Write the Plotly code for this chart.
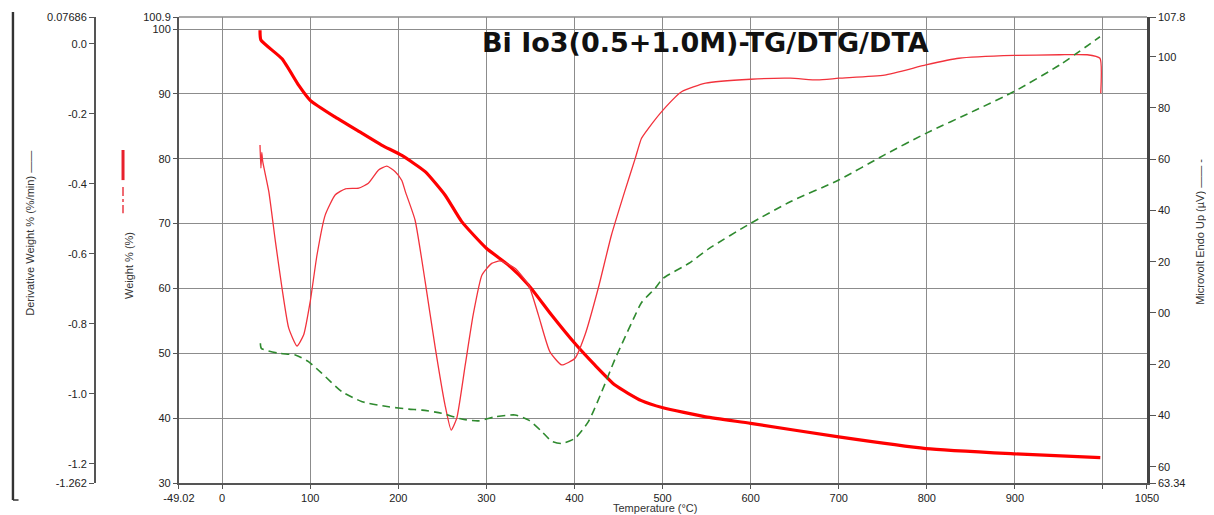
import plotly.graph_objects as go

# ---------------- data ----------------
temp_tg = [43, 44, 68, 87, 100, 128.5, 159, 181, 204, 230.5, 253, 272, 300, 325,
           348, 374, 400.6, 423, 446, 476, 500.5, 549, 600, 700, 799, 899, 997]
weight = [99.8, 98.3, 95.4, 91.3, 89.0, 86.4, 83.9, 82.1, 80.5, 78.0, 74.4, 70.3,
          66.2, 63.6, 60.5, 55.9, 51.5, 48.2, 45.1, 42.7, 41.6, 40.2, 39.2, 37.1,
          35.3, 34.5, 33.9]

temp_dtg = [43, 44, 45, 46, 53, 60.5, 68, 75.6, 85, 92.6, 100, 107.7, 117, 128.5,
            140, 155, 166, 177.6, 187, 196.5, 204, 208, 219, 230.5, 242, 253, 260,
            266.4, 276, 285, 295, 306, 315.5, 332.5, 348, 359, 372, 385.5, 400.6,
            412, 427, 442, 457, 469, 476, 484, 500.5, 522, 549, 600, 645, 676, 700,
            752, 799, 836.5, 899, 951, 982, 996.6, 997.5]
deriv = [-0.289, -0.355, -0.31, -0.335, -0.422, -0.565, -0.698, -0.812, -0.863,
         -0.831, -0.736, -0.603, -0.489, -0.431, -0.414, -0.412, -0.398, -0.36,
         -0.349, -0.365, -0.39, -0.422, -0.503, -0.679, -0.869, -1.031, -1.103,
         -1.069, -0.917, -0.774, -0.66, -0.627, -0.62, -0.641, -0.689, -0.774,
         -0.879, -0.917, -0.898, -0.831, -0.698, -0.546, -0.422, -0.327, -0.27,
         -0.241, -0.189, -0.136, -0.112, -0.101, -0.098, -0.103, -0.098, -0.089,
         -0.06, -0.041, -0.033, -0.031, -0.031, -0.041, -0.141]

temp_dta = [43.4, 44.5, 64, 83, 98, 113, 136, 159, 189, 211.7, 227, 249, 272, 291,
            310, 332.5, 348, 363, 374, 385.5, 400.6, 415.8, 431, 446, 454, 469, 476,
            492, 500.5, 530, 553, 600, 645, 700, 752, 799, 855.7, 899, 951, 996.6]
dta = [-11.8, -13.8, -15.7, -16.4, -19, -23.5, -30.7, -34.6, -36.6, -37.5, -37.9,
       -39.1, -41.4, -42.1, -40.5, -39.8, -41.8, -46.3, -50, -50.9, -48.9, -42.4,
       -30.7, -18, -12, -0.8, 4, 9.8, 13.5, 19.4, 25.2, 35, 43.4, 51.9, 61.7, 70.1,
       79.2, 86.4, 96.8, 107.8]

x_tickvals = [-49.02, 0, 100, 200, 300, 400, 500, 600, 700, 800, 900, 1000, 1050]
x_ticktext = ["-49.02", "0", "100", "200", "300", "400", "500", "600", "700", "800",
              "900", "", "1050"]
w_tickvals = [30, 40, 50, 60, 70, 80, 90, 100, 101.85]
w_ticktext = ["30", "40", "50", "60", "70", "80", "90", "100", "100.9"]
d_tickvals = [-1.2543, -1.2, -1.0, -0.8, -0.6, -0.4, -0.2, 0.0, 0.07686]
d_ticktext = ["-1.262", "-1.2", "-1.0", "-0.8", "-0.6", "-0.4", "-0.2", "0.0", "0.07686"]
u_tickvals = [-66.34, -60, -40, -20, 0, 20, 40, 60, 80, 100, 115.5]
u_ticktext = ["63.34", "60", "40", "20", "00", "20", "40", "60", "80", "100", "107.8"]

TITLE = "Bi Io3(0.5+1.0M)-TG/DTG/DTA"

# ---------------- figure ----------------
FONT = "Liberation Sans, Arial, sans-serif"
NARROW = "Liberation Sans Narrow, Arial Narrow, Liberation Sans, Arial, sans-serif"
GRID = "#8c8c8c"

fig = go.Figure()
fig.add_trace(go.Scatter(x=temp_dtg, y=deriv, yaxis="y2", mode="lines",
                         line=dict(color="#f2323c", width=1.3, shape="spline",
                                   smoothing=0.5), hoverinfo="skip"))
fig.add_trace(go.Scatter(x=temp_dta, y=dta, yaxis="y3", mode="lines",
                         line=dict(color="#2f8a2f", width=1.6, dash="8px,5px",
                                   shape="spline", smoothing=0.6), hoverinfo="skip"))
fig.add_trace(go.Scatter(x=temp_tg, y=weight, yaxis="y", mode="lines",
                         line=dict(color="#ff0000", width=3.2, shape="spline",
                                   smoothing=0.5), hoverinfo="skip"))

# the page body adds an 8px offset, so the figure is 8px smaller than the window
fig.update_layout(
    template="none",
    width=1206, height=507,
    margin=dict(l=2, r=67, t=9, b=32, autoexpand=False),
    paper_bgcolor="white", plot_bgcolor="white",
    showlegend=False,
    font=dict(family=FONT, size=11, color="#222"),
    xaxis=dict(domain=[0.1486, 1], range=[-49.02, 1050], tickvals=x_tickvals,
               ticktext=x_ticktext, showgrid=True, gridcolor=GRID, gridwidth=1.3,
               showline=True, linecolor="#555", linewidth=2, ticks="outside",
               ticklen=4, tickcolor="#555", zeroline=False,
               tickfont=dict(family=NARROW, size=11, color="#222")),
    yaxis=dict(range=[30, 101.85], tickvals=w_tickvals, ticktext=w_ticktext,
               showgrid=True, gridcolor=GRID, gridwidth=1.3, showline=True,
               linecolor="#555", linewidth=2, ticks="outside", ticklen=4,
               tickcolor="#555", zeroline=False, anchor="x", side="left",
               tickfont=dict(size=11, color="#222")),
    yaxis2=dict(range=[-1.2543, 0.07686], tickvals=d_tickvals, ticktext=d_ticktext,
                overlaying="y", anchor="free", position=0.0748, side="left",
                showgrid=False, showline=True, linecolor="#555", linewidth=2,
                ticks="outside", ticklen=5, tickcolor="#555", zeroline=False,
                tickfont=dict(size=11, color="#222")),
    yaxis3=dict(range=[-66.34, 115.5], tickvals=u_tickvals, ticktext=u_ticktext,
                overlaying="y", anchor="x", side="right", showgrid=False,
                showline=True, linecolor="#444", linewidth=2.5, ticks="outside",
                ticklen=6, tickcolor="#555", zeroline=False,
                tickfont=dict(size=11, color="#222")),
)

# top border of the plot area
fig.add_shape(type="line", xref="x domain", yref="paper", x0=0, x1=1, y0=1, y1=1,
              line=dict(color=GRID, width=1.3))
# outer left frame line
fig.add_shape(type="line", xref="paper", yref="paper", x0=0.0026, x1=0.0026,
              y0=1.0107, y1=-0.0365, line=dict(color="#333", width=2.4))
fig.add_shape(type="line", xref="paper", yref="paper", x0=0.0026, x1=0.0075,
              y0=-0.0365, y1=-0.0365, line=dict(color="#333", width=1.5))
# weight-axis legend marks
fig.add_shape(type="line", xref="paper", yref="paper", x0=0.0994, x1=0.0994,
              y0=0.7146, y1=0.650, line=dict(color="#e8202c", width=3))
fig.add_shape(type="line", xref="paper", yref="paper", x0=0.0994, x1=0.0994,
              y0=0.635, y1=0.579, line=dict(color="#ef6a72", width=2, dash="dashdot"))

ann = [
    dict(text="<b>" + TITLE + "</b>", x=0.612, y=0.946,
         font=dict(family="DejaVu Sans, Liberation Sans, Arial", size=27, color="#111"),
         textangle=0),
    dict(text="Derivative Weight % (%/min) ——", x=0.0176, y=0.535,
         font=dict(family=NARROW, size=11, color="#333"), textangle=-90),
    dict(text="Weight % (%)", x=0.1047, y=0.4657,
         font=dict(family=NARROW, size=11, color="#333"), textangle=-90),
    dict(text="Microvolt Endo Up (µV) —— -", x=1.0466, y=0.539,
         font=dict(family=NARROW, size=11, color="#333"), textangle=-90),
    dict(text="Temperature (°C)", x=0.567, y=-0.0536,
         font=dict(family=NARROW, size=11, color="#333"), textangle=0),
]
for a in ann:
    fig.add_annotation(xref="paper", yref="paper", showarrow=False,
                       xanchor="center", yanchor="middle", **a)

fig.write_html("out.html")
